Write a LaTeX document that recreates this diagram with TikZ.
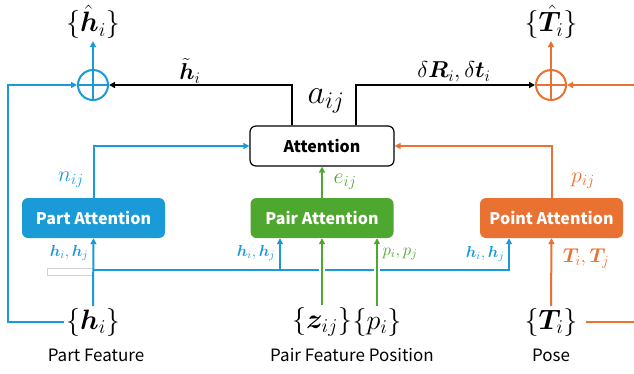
\RequirePackage{fix-cm}
\documentclass[tikz,border=0pt]{standalone}
\usepackage{fontspec}
\setsansfont{Noto Sans CJK SC}
\usepackage{amsmath,bm}
\usetikzlibrary{arrows.meta,calc}
\definecolor{cblue}{RGB}{26,155,215}
\definecolor{cgreen}{RGB}{78,167,46}
\definecolor{corange}{RGB}{233,113,50}
\tikzset{
  box/.style={rounded corners=6pt, minimum width=143pt, minimum height=40pt, inner sep=0pt,
    font=\fontsize{16}{18}\selectfont\sffamily\bfseries, text=white},
  attbox/.style={draw=black, line width=1.2pt, rounded corners=6pt, minimum width=144pt, minimum height=40pt,
    inner sep=0pt, font=\fontsize{16}{18}\selectfont\sffamily\bfseries},
  plusnode/.style={circle, line width=2pt, minimum size=30pt, inner sep=0pt},
  bigm/.style={font=\fontsize{28}{32}\selectfont, inner sep=2pt},
  hugem/.style={font=\fontsize{34}{38}\selectfont, inner sep=1pt},
  midm/.style={font=\fontsize{23}{27}\selectfont, inner sep=1pt},
  smm/.style={font=\fontsize{22}{26}\selectfont, inner sep=1pt},
  tinym/.style={font=\fontsize{16}{19}\selectfont, inner sep=1pt},
  lab/.style={font=\fontsize{17}{20}\selectfont\sffamily, inner sep=1pt},
  tip/.style={-{Triangle[length=6pt,width=6pt]}},
  bl/.style={draw=cblue, line width=2pt},
  gr/.style={draw=cgreen, line width=2pt},
  orl/.style={draw=corange, line width=2pt},
  bk/.style={draw=black, line width=2pt},
}
\begin{document}
\begin{tikzpicture}[x=1pt,y=-1pt]
\useasboundingbox (0,0) rectangle (634,373);
% boxes
\node[attbox] (att) at (322,146) {Attention};
\node[box, fill=cblue] (part) at (93.5,218) {Part Attention};
\node[box, fill=cgreen] (pair) at (322,218) {Pair Attention};
\node[box, fill=corange] (point) at (551.5,218) {Point Attention};
% plus circles
\node[plusnode, draw=cblue] (plusb) at (93,85) {};
\draw[bl] (plusb.north) -- (plusb.south) (plusb.west) -- (plusb.east);
\node[plusnode, draw=corange] (pluso) at (551,85) {};
\draw[orl] (pluso.north) -- (pluso.south) (pluso.west) -- (pluso.east);
% math sets
\node[bigm] (hhat) at (93,22) {$\{\hat{\bm h}_i\}$};
\node[bigm] (That) at (551,22) {$\{\hat{\bm T}_i\}$};
\node[bigm] (hi) at (93,322) {$\{\bm h_i\}$};
\node[bigm] (zij) at (322,322) {$\{\bm z_{ij}\}$};
\node[bigm] (pi) at (377,322) {$\{p_i\}$};
\node[bigm] (Ti) at (551,322) {$\{\bm T_i\}$};
% captions
\node[lab] (lpart) at (96,355) {Part Feature};
\node[lab] (lpair) at (352,355) {Pair Feature Position};
\node[lab] (lpose) at (551,355) {Pose};
% labels
\node[midm] (htil) at (190,71) {$\tilde{\bm h}_i$};
\node[midm] (dRt) at (454,72) {$\delta\bm R_i,\delta\bm t_i$};
\node[hugem] (aij) at (326,101) {$a_{ij}$};
\node[smm, text=cblue] (nij) at (71,180) {$n_{ij}$};
\node[smm, text=cgreen] (eij) at (345,182) {$e_{ij}$};
\node[smm, text=corange] (pij) at (583,181) {$p_{ij}$};
\node[tinym, text=cblue] (hh1) at (69,253) {$\bm h_i,\bm h_j$};
\node[tinym, text=cblue] (hh2) at (256,253) {$\bm h_i,\bm h_j$};
\node[tinym, text=cblue] (hh3) at (485,254) {$\bm h_i,\bm h_j$};
\node[font=\fontsize{17}{20}\selectfont, inner sep=1pt, text=cgreen] (pp) at (400,254) {$p_i,p_j$};
\node[font=\fontsize{20}{24}\selectfont, inner sep=1pt, text=corange] (TT) at (586,258) {$\bm T_i,\bm T_j$};
% small grey frame
\node[draw=gray!35, line width=0.7pt, minimum width=46pt, minimum height=7pt, inner sep=0pt] (frame) at (70,271.5) {};
% coordinates
\coordinate (lc) at (8,85);
\coordinate (rin) at (634,85);
\coordinate (rout) at (634,323);
\coordinate (bus0) at (93,270);
\coordinate (busp) at (280,270);
\coordinate (bus1) at (509,270);
% top connectors
\draw[bl,tip] (plusb.north) -- (hhat.south);
\draw[orl,tip] (pluso.north) -- (That.south);
\draw[bl,tip] (hi.west) -| (lc) -- (plusb.west);
\draw[orl,tip] (rin) -- (pluso.east);
\draw[bk,tip] ($(att.north)+(-30,0)$) |- (plusb.east);
\draw[bk,tip] ($(att.north)+(34,0)$) |- (pluso.west);
\draw[bl,tip] (part.north) |- (att.west);
\draw[orl,tip] (point.north) |- (att.east);
\draw[gr,tip] (pair.north) -- (att.south);
% bottom connectors
\draw[bl,tip] (hi.north) -- (part.south);
\draw[bl,tip] (bus0) -- (bus1) -- (bus1 |- point.south);
\draw[bl,tip] (busp) -- (busp |- pair.south);
\draw[white, line width=6pt] (zij.north) -- (zij.north |- pair.south);
\draw[white, line width=6pt] (pi.north) -- (pi.north |- pair.south);
\draw[gr,tip] (zij.north) -- (zij.north |- pair.south);
\draw[gr,tip] (pi.north) -- (pi.north |- pair.south);
\draw[orl,tip] (Ti.north) -- (point.south);
\draw[orl] ($(Ti.east)+(6,0)$) -- (Ti.east -| rout);
\end{tikzpicture}
\end{document}
